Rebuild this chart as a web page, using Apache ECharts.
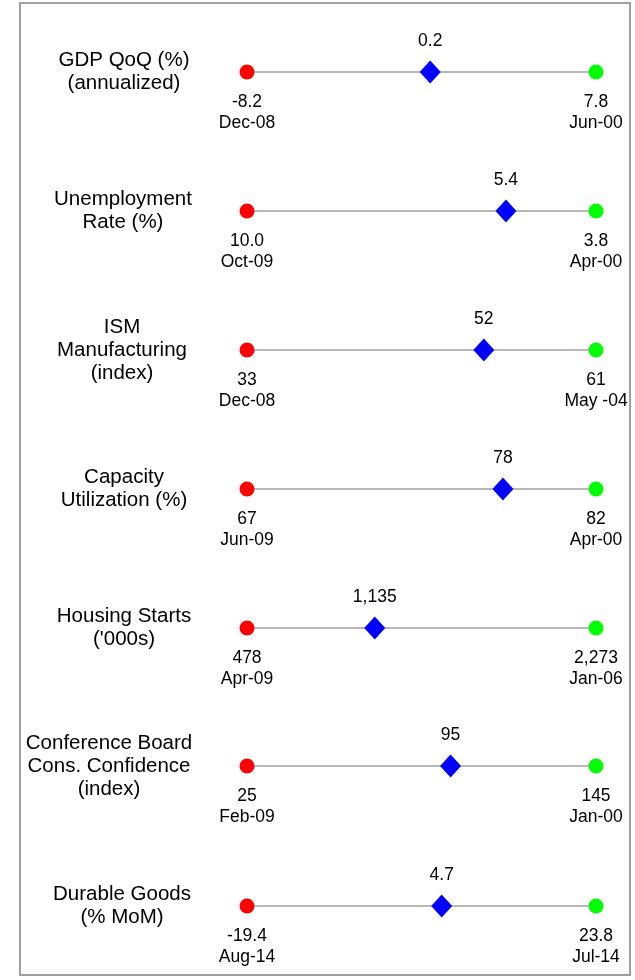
<!DOCTYPE html>
<html>
<head>
<meta charset="utf-8">
<script src="https://cdn.jsdelivr.net/npm/echarts@6/dist/echarts.min.js"></script>
<style>
  html, body { margin: 0; padding: 0; background: #ffffff; }
  #chart { width: 635px; height: 980px; }
</style>
</head>
<body>
<div id="chart"></div>
<script>
// Economic indicators: current reading placed between worst and best readings
const indicators = [
  'GDP QoQ (%)\n(annualized)',
  'Unemployment\nRate (%)',
  'ISM\nManufacturing\n(index)',
  'Capacity\nUtilization (%)',
  "Housing Starts\n('000s)",
  'Conference Board\nCons. Confidence\n(index)',
  'Durable Goods\n(% MoM)'
];
const worstValues = [-8.2, 10.0, 33, 67, 478, 25, -19.4];
const worstDates  = ['Dec-08', 'Oct-09', 'Dec-08', 'Jun-09', 'Apr-09', 'Feb-09', 'Aug-14'];
const bestValues  = [7.8, 3.8, 61, 82, 2273, 145, 23.8];
const bestDates   = ['Jun-00', 'Apr-00', 'May -04', 'Apr-00', 'Jan-06', 'Jan-00', 'Jul-14'];
const currentValues = [0.2, 5.4, 52, 78, 1135, 95, 4.7];
const decimals = [1, 1, 0, 0, 0, 0, 1];

// Layout of the rows
const rowCenters = [72, 211, 350, 489, 628, 766, 906];
const lineLeft = 247;
const lineWidth = 349;
const labelCenters = [124, 123, 122, 124, 124, 109, 122];

const FONT = 'Liberation Sans, Arial, sans-serif';
const fmt = (v, d) => new Intl.NumberFormat('en-US', {
  minimumFractionDigits: d, maximumFractionDigits: d
}).format(v);

const grids = [], xAxes = [], yAxes = [], series = [], graphics = [];

indicators.forEach((name, i) => {
  const lo = worstValues[i], hi = bestValues[i];
  grids.push({ left: lineLeft, width: lineWidth, top: rowCenters[i] - 10, height: 20 });
  xAxes.push({
    gridIndex: i, type: 'value',
    min: Math.min(lo, hi), max: Math.max(lo, hi), inverse: lo > hi,
    show: false
  });
  yAxes.push({ gridIndex: i, type: 'value', min: -1, max: 1, show: false });

  // connecting range line
  series.push({
    type: 'line', xAxisIndex: i, yAxisIndex: i, silent: true,
    data: [[lo, 0], [hi, 0]], symbol: 'none',
    lineStyle: { color: '#a0a0a0', width: 1.5 }, z: 1
  });
  const endLabel = {
    show: true, position: 'bottom', distance: 12,
    fontFamily: FONT, fontSize: 17.5, color: '#000', lineHeight: 21, align: 'center'
  };
  // worst reading
  series.push({
    type: 'scatter', xAxisIndex: i, yAxisIndex: i, silent: true,
    data: [[lo, 0]], symbol: 'circle', symbolSize: 15,
    itemStyle: { color: '#ff0000', opacity: 1 }, z: 3,
    label: Object.assign({}, endLabel, { formatter: fmt(lo, decimals[i]) + '\n' + worstDates[i] })
  });
  // best reading
  series.push({
    type: 'scatter', xAxisIndex: i, yAxisIndex: i, silent: true,
    data: [[hi, 0]], symbol: 'circle', symbolSize: 15,
    itemStyle: { color: '#00ff00', opacity: 1 }, z: 3,
    label: Object.assign({}, endLabel, { formatter: fmt(hi, decimals[i]) + '\n' + bestDates[i] })
  });
  // current reading
  series.push({
    type: 'scatter', xAxisIndex: i, yAxisIndex: i, silent: true,
    data: [[currentValues[i], 0]], symbol: 'diamond', symbolSize: [21, 23],
    itemStyle: { color: '#0000ff', opacity: 1 }, z: 4,
    label: {
      show: true, position: 'top', distance: 9,
      fontFamily: FONT, fontSize: 17.5, color: '#000', lineHeight: 20,
      formatter: fmt(currentValues[i], decimals[i])
    }
  });

  // row caption
  graphics.push({
    type: 'text', x: labelCenters[i], y: rowCenters[i],
    style: {
      text: name, fontFamily: FONT, fontSize: 20.5, lineHeight: 23,
      fill: '#000', align: 'center', verticalAlign: 'middle'
    }
  });
});

// frame
graphics.push({
  type: 'rect', shape: { x: 20, y: 3, width: 610, height: 972 },
  style: { fill: 'none', stroke: '#a0a0a0', lineWidth: 2 }, z: 0
});

const chart = echarts.init(document.getElementById('chart'), null, { renderer: 'canvas' });
chart.setOption({
  animation: false,
  backgroundColor: '#ffffff',
  grid: grids, xAxis: xAxes, yAxis: yAxes, series: series,
  graphic: graphics
});
</script>
</body>
</html>
